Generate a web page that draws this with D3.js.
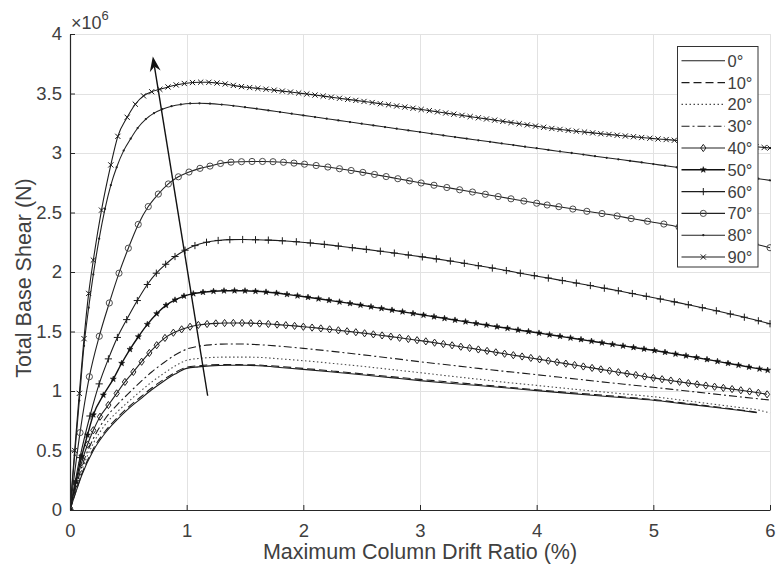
<!DOCTYPE html>
<html>
<head>
<meta charset="utf-8">
<script src="https://cdn.jsdelivr.net/npm/d3@7"></script>
<style>
  html, body { margin: 0; padding: 0; background: #fff; }
  svg { display: block; font-family: "Liberation Sans", Arial, Helvetica, sans-serif; }
</style>
</head>
<body>
<svg id="chart" width="777" height="567"></svg>
<script>
// ---- axis ticks ----
const xTickValues = [0, 1, 2, 3, 4, 5, 6];
const xTickLabels = ["0", "1", "2", "3", "4", "5", "6"];
const yTickValues = [0, 0.5, 1, 1.5, 2, 2.5, 3, 3.5, 4];
const yTickLabels = ["0", "0.5", "1", "1.5", "2", "2.5", "3", "3.5", "4"];

// ---- incidence angles (legend) ----
const angleLabels = ["0°", "10°", "20°", "30°", "40°", "50°", "60°", "70°", "80°", "90°"];

// ---- pushover curves: [drift ratio (%), base shear (x10^6 N)] ----
const deg0 = [[0,0],[0.05,0.15],[0.1,0.29],[0.2,0.5],[0.3,0.645],[0.4,0.755],[0.5,0.85],[0.6,0.93],[0.7,1.01],[0.8,1.08],[0.9,1.142],[1.0,1.19],[1.1,1.203],[1.2,1.211],[1.35,1.216],[1.5,1.216],[1.65,1.21],[1.8,1.198],[2.0,1.182],[2.25,1.16],[2.5,1.137],[2.75,1.112],[3.0,1.087],[3.25,1.065],[3.5,1.046],[3.75,1.025],[4.0,1.003],[4.25,0.982],[4.5,0.962],[4.75,0.943],[5.0,0.922],[5.25,0.894],[5.5,0.866],[5.75,0.836],[5.886,0.818]];
const deg10 = [[0,0],[0.05,0.155],[0.1,0.3],[0.2,0.515],[0.3,0.66],[0.4,0.77],[0.5,0.865],[0.6,0.945],[0.7,1.025],[0.8,1.095],[0.9,1.155],[1.0,1.199],[1.1,1.212],[1.2,1.219],[1.35,1.222],[1.5,1.221],[1.65,1.217],[1.8,1.206],[2.0,1.19],[2.25,1.168],[2.5,1.145],[2.75,1.121],[3.0,1.098],[3.25,1.076],[3.5,1.055],[3.75,1.032],[4.0,1.01],[4.25,0.99],[4.5,0.97],[4.75,0.95],[5.0,0.928],[5.25,0.9],[5.5,0.871],[5.75,0.84],[5.886,0.822]];
const deg20 = [[0,0],[0.05,0.17],[0.1,0.33],[0.2,0.56],[0.3,0.715],[0.4,0.82],[0.5,0.91],[0.6,0.995],[0.7,1.075],[0.8,1.145],[0.9,1.21],[1.0,1.258],[1.1,1.273],[1.2,1.281],[1.35,1.285],[1.5,1.285],[1.65,1.281],[1.8,1.27],[2.0,1.255],[2.25,1.232],[2.5,1.208],[2.75,1.181],[3.0,1.154],[3.25,1.126],[3.5,1.099],[3.75,1.071],[4.0,1.047],[4.25,1.022],[4.5,0.998],[4.75,0.975],[5.0,0.952],[5.25,0.922],[5.5,0.891],[5.75,0.86],[5.9,0.84],[6.0,0.815]];
const deg30 = [[0,0],[0.05,0.19],[0.1,0.36],[0.2,0.6],[0.3,0.765],[0.4,0.88],[0.5,0.978],[0.6,1.072],[0.7,1.16],[0.8,1.235],[0.9,1.302],[1.0,1.352],[1.1,1.376],[1.2,1.388],[1.3,1.394],[1.45,1.395],[1.6,1.39],[1.8,1.376],[2.0,1.358],[2.25,1.333],[2.5,1.305],[2.75,1.276],[3.0,1.246],[3.25,1.218],[3.5,1.19],[3.75,1.163],[4.0,1.137],[4.25,1.11],[4.5,1.083],[4.75,1.057],[5.0,1.031],[5.25,1.004],[5.5,0.977],[5.75,0.95],[6.0,0.924]];
const deg40 = [[0,0],[0.05,0.22],[0.1,0.4],[0.15,0.55],[0.2,0.67],[0.257,0.784],[0.329,0.882],[0.4,0.98],[0.471,1.076],[0.543,1.16],[0.614,1.246],[0.68,1.32],[0.743,1.385],[0.814,1.446],[0.886,1.49],[0.957,1.518],[1.029,1.54],[1.1,1.555],[1.175,1.563],[1.25,1.568],[1.325,1.571],[1.4,1.572],[1.475,1.572],[1.55,1.57],[1.625,1.567],[1.7,1.563],[1.775,1.558],[1.85,1.553],[1.925,1.547],[2.0,1.54],[2.075,1.533],[2.15,1.526],[2.225,1.518],[2.3,1.51],[2.375,1.502],[2.45,1.494],[2.525,1.485],[2.6,1.476],[2.675,1.467],[2.75,1.457],[2.825,1.447],[2.9,1.437],[2.975,1.427],[3.05,1.417],[3.125,1.406],[3.2,1.395],[3.275,1.384],[3.35,1.372],[3.425,1.361],[3.5,1.349],[3.575,1.337],[3.65,1.325],[3.725,1.313],[3.8,1.301],[3.875,1.29],[3.95,1.278],[4.025,1.266],[4.1,1.254],[4.175,1.242],[4.25,1.23],[4.325,1.218],[4.4,1.206],[4.475,1.194],[4.55,1.182],[4.625,1.17],[4.7,1.158],[4.775,1.146],[4.85,1.134],[4.925,1.122],[5.0,1.11],[5.075,1.099],[5.15,1.088],[5.225,1.077],[5.3,1.066],[5.375,1.056],[5.45,1.046],[5.525,1.036],[5.6,1.026],[5.675,1.016],[5.75,1.006],[5.825,0.996],[5.9,0.985],[5.975,0.972]];
const deg50 = [[0,0],[0.05,0.24],[0.1,0.45],[0.15,0.63],[0.2,0.8],[0.286,0.966],[0.371,1.1],[0.443,1.233],[0.514,1.35],[0.586,1.456],[0.663,1.56],[0.743,1.65],[0.823,1.72],[0.9,1.765],[0.977,1.798],[1.057,1.818],[1.14,1.83],[1.23,1.838],[1.32,1.842],[1.41,1.843],[1.5,1.842],[1.59,1.838],[1.68,1.832],[1.77,1.823],[1.86,1.812],[1.95,1.8],[2.04,1.788],[2.13,1.775],[2.22,1.762],[2.31,1.749],[2.4,1.736],[2.49,1.722],[2.58,1.708],[2.67,1.694],[2.76,1.68],[2.85,1.666],[2.94,1.652],[3.03,1.638],[3.12,1.624],[3.21,1.61],[3.3,1.596],[3.39,1.582],[3.48,1.568],[3.57,1.554],[3.66,1.54],[3.75,1.527],[3.84,1.513],[3.93,1.5],[4.02,1.487],[4.11,1.473],[4.2,1.46],[4.29,1.446],[4.38,1.433],[4.47,1.419],[4.56,1.405],[4.65,1.392],[4.74,1.379],[4.83,1.366],[4.92,1.353],[5.01,1.34],[5.1,1.326],[5.19,1.311],[5.28,1.296],[5.37,1.281],[5.46,1.265],[5.55,1.249],[5.64,1.233],[5.73,1.217],[5.82,1.201],[5.91,1.186],[5.98,1.175]];
const deg60 = [[0,0],[0.085,0.44],[0.171,0.79],[0.25,1.06],[0.329,1.27],[0.406,1.45],[0.486,1.6],[0.577,1.76],[0.663,1.895],[0.74,1.99],[0.82,2.065],[0.9,2.13],[0.986,2.183],[1.071,2.222],[1.17,2.25],[1.27,2.265],[1.37,2.272],[1.48,2.273],[1.59,2.271],[1.7,2.268],[1.82,2.262],[1.94,2.254],[2.06,2.244],[2.18,2.232],[2.3,2.218],[2.42,2.204],[2.54,2.19],[2.66,2.175],[2.78,2.159],[2.9,2.143],[3.02,2.127],[3.14,2.11],[3.26,2.092],[3.38,2.073],[3.5,2.053],[3.62,2.033],[3.74,2.012],[3.86,1.99],[3.98,1.969],[4.1,1.949],[4.22,1.928],[4.34,1.907],[4.46,1.886],[4.58,1.864],[4.7,1.842],[4.82,1.819],[4.94,1.796],[5.06,1.773],[5.18,1.749],[5.3,1.725],[5.42,1.7],[5.54,1.674],[5.66,1.647],[5.78,1.62],[5.9,1.59],[6.0,1.565]];
const deg70 = [[0,0],[0.086,0.65],[0.166,1.12],[0.251,1.46],[0.337,1.74],[0.42,1.99],[0.5,2.2],[0.585,2.4],[0.671,2.55],[0.757,2.655],[0.843,2.74],[0.929,2.8],[1.02,2.84],[1.114,2.871],[1.2,2.89],[1.29,2.912],[1.38,2.923],[1.47,2.927],[1.56,2.929],[1.65,2.929],[1.74,2.927],[1.83,2.922],[1.92,2.915],[2.01,2.906],[2.11,2.895],[2.21,2.882],[2.31,2.868],[2.41,2.853],[2.51,2.837],[2.61,2.82],[2.71,2.802],[2.81,2.784],[2.91,2.766],[3.01,2.748],[3.12,2.729],[3.23,2.71],[3.34,2.691],[3.45,2.672],[3.56,2.653],[3.67,2.634],[3.78,2.615],[3.89,2.596],[4.0,2.578],[4.09,2.563],[4.19,2.549],[4.31,2.529],[4.43,2.51],[4.56,2.491],[4.69,2.471],[4.81,2.449],[4.95,2.426],[5.09,2.403],[5.22,2.378],[5.35,2.352],[5.48,2.325],[5.61,2.296],[5.74,2.266],[5.87,2.235],[6.0,2.204]];
const deg80 = [[0,0],[0.04,0.46],[0.08,0.92],[0.12,1.38],[0.16,1.7],[0.2,1.98],[0.25,2.28],[0.3,2.53],[0.35,2.73],[0.4,2.88],[0.46,3.02],[0.52,3.12],[0.58,3.21],[0.65,3.285],[0.72,3.335],[0.79,3.368],[0.87,3.393],[0.95,3.408],[1.03,3.416],[1.11,3.418],[1.2,3.415],[1.3,3.407],[1.4,3.397],[1.5,3.385],[1.6,3.372],[1.7,3.358],[1.8,3.344],[1.9,3.33],[2.0,3.316],[2.1,3.302],[2.2,3.288],[2.3,3.274],[2.4,3.26],[2.5,3.246],[2.6,3.232],[2.7,3.218],[2.8,3.204],[2.9,3.19],[3.0,3.176],[3.1,3.162],[3.2,3.148],[3.3,3.134],[3.4,3.121],[3.5,3.107],[3.6,3.094],[3.7,3.08],[3.8,3.067],[3.9,3.053],[4.0,3.04],[4.1,3.026],[4.2,3.013],[4.3,3.0],[4.4,2.987],[4.5,2.973],[4.6,2.96],[4.7,2.947],[4.8,2.934],[4.9,2.921],[5.0,2.907],[5.1,2.894],[5.2,2.88],[5.3,2.867],[5.4,2.853],[5.5,2.84],[5.6,2.826],[5.7,2.812],[5.8,2.798],[5.9,2.784],[6.0,2.77]];
const deg90 = [[0,0],[0.04,0.5],[0.08,0.98],[0.12,1.44],[0.16,1.82],[0.2,2.1],[0.27,2.52],[0.35,2.9],[0.41,3.14],[0.49,3.3],[0.56,3.41],[0.63,3.48],[0.7,3.515],[0.77,3.535],[0.84,3.555],[0.91,3.572],[0.98,3.584],[1.05,3.592],[1.12,3.595],[1.19,3.594],[1.26,3.588],[1.33,3.58],[1.4,3.568],[1.47,3.558],[1.54,3.55],[1.61,3.543],[1.68,3.536],[1.75,3.528],[1.82,3.52],[1.89,3.512],[1.96,3.504],[2.03,3.496],[2.1,3.487],[2.17,3.478],[2.24,3.469],[2.31,3.46],[2.38,3.451],[2.45,3.442],[2.52,3.433],[2.59,3.424],[2.66,3.414],[2.73,3.405],[2.8,3.395],[2.87,3.386],[2.94,3.376],[3.01,3.366],[3.08,3.356],[3.15,3.346],[3.22,3.336],[3.29,3.326],[3.36,3.316],[3.43,3.306],[3.5,3.296],[3.57,3.286],[3.64,3.276],[3.71,3.266],[3.78,3.256],[3.85,3.246],[3.92,3.236],[3.99,3.226],[4.06,3.216],[4.13,3.206],[4.2,3.198],[4.27,3.19],[4.34,3.183],[4.41,3.176],[4.48,3.169],[4.55,3.162],[4.62,3.156],[4.69,3.149],[4.76,3.143],[4.83,3.137],[4.9,3.13],[4.97,3.124],[5.04,3.118],[5.11,3.113],[5.18,3.107],[5.25,3.102],[5.32,3.096],[5.39,3.091],[5.46,3.085],[5.53,3.08],[5.6,3.074],[5.67,3.068],[5.74,3.063],[5.81,3.057],[5.88,3.052],[5.95,3.046],[6.0,3.042]];

// trend arrow (drift %, shear x10^6 N)
const arrowTail = [1.18, 0.96];
const arrowTip = [0.71, 3.81];

const curves = [deg0, deg10, deg20, deg30, deg40, deg50, deg60, deg70, deg80, deg90];

// ---- styling per curve ----
const dashStyle = [null, "8,4", "1.5,2.5", "8,3,2,3", null, null, null, null, null, null];
const lineColor = ["#1c1c1c", "#1c1c1c", "#4a4a4a", "#1c1c1c", "#222", "#111", "#1c1c1c", "#222", "#222", "#1c1c1c"];
const lineWidth = [1.1, 1.1, 1.1, 1.1, 1.1, 1.4, 1.1, 1.1, 1.1, 1.1];
const markerKind = [null, null, null, null, "diamond", "star", "plus", "circle", "dot", "cross"];

const svg = d3.select("#chart");
const x = d3.scaleLinear().domain([0, 6]).range([70, 770]);
const y = d3.scaleLinear().domain([0, 4]).range([510, 34]);

// grid
const grid = svg.append("g").attr("stroke", "#e2e2e2").attr("stroke-width", 1).attr("shape-rendering", "crispEdges");
grid.selectAll("line.gx").data(xTickValues.filter(v => v > 0)).join("line").attr("class", "gx")
  .attr("x1", d => Math.round(x(d)) + 0.5).attr("x2", d => Math.round(x(d)) + 0.5)
  .attr("y1", y(0)).attr("y2", y(4));
grid.selectAll("line.gy").data(yTickValues.filter(v => v > 0)).join("line").attr("class", "gy")
  .attr("y1", d => Math.round(y(d)) + 0.5).attr("y2", d => Math.round(y(d)) + 0.5)
  .attr("x1", x(0)).attr("x2", x(6));

// clip to axes
svg.append("clipPath").attr("id", "plotClip").append("rect")
  .attr("x", x(0)).attr("y", y(4) - 1).attr("width", x(6) - x(0) + 1).attr("height", y(0) - y(4) + 2);

const line = d3.line().x(d => x(d[0])).y(d => y(d[1])).curve(d3.curveMonotoneX);

function markerPath(kind) {
  switch (kind) {
    case "diamond": return "M0,-3.6L2.6,0L0,3.6L-2.6,0Z";
    case "plus": return "M-3.6,0H3.6M0,-3.6V3.6";
    case "cross": return "M-2.6,-2.6L2.6,2.6M-2.6,2.6L2.6,-2.6";
    case "star": return d3.symbol(d3.symbolStar, 11)();
    case "circle": return d3.symbol(d3.symbolCircle, 30)();
    case "dot": return d3.symbol(d3.symbolCircle, 4)();
  }
  return null;
}
function styleMarker(sel, kind, color) {
  if (kind === "star" || kind === "dot") {
    sel.attr("fill", color).attr("stroke", kind === "star" ? color : "none").attr("stroke-width", 0.6);
  } else {
    sel.attr("fill", "none").attr("stroke", kind === "circle" ? "#4d4d4d" : color).attr("stroke-width", 1);
  }
}

const plot = svg.append("g").attr("clip-path", "url(#plotClip)");
curves.forEach((pts, i) => {
  const g = plot.append("g");
  g.append("path").datum(pts)
    .attr("d", line)
    .attr("fill", "none")
    .attr("stroke", lineColor[i])
    .attr("stroke-width", lineWidth[i])
    .attr("stroke-dasharray", dashStyle[i]);
  const kind = markerKind[i];
  if (kind) {
    const mp = markerPath(kind);
    g.selectAll("path.mk").data(pts).join("path").attr("class", "mk")
      .attr("d", mp)
      .attr("transform", d => `translate(${x(d[0])},${y(d[1])})`)
      .call(styleMarker, kind, lineColor[i]);
  }
});

// axes
const axisColor = "#262626";
const textColor = "#404040";
const xAxis = d3.axisBottom(x).tickValues(xTickValues).tickFormat((d, i) => xTickLabels[i])
  .tickSizeInner(-5).tickSizeOuter(0).tickPadding(14);
const yAxis = d3.axisLeft(y).tickValues(yTickValues).tickFormat((d, i) => yTickLabels[i])
  .tickSizeInner(-5).tickSizeOuter(0).tickPadding(8);

const gx = svg.append("g").attr("transform", `translate(0,${y(0)})`).call(xAxis);
const gy = svg.append("g").attr("transform", `translate(${x(0)},0)`).call(yAxis);
[gx, gy].forEach(g => {
  g.attr("font-family", null).attr("font-size", null);
  g.select(".domain").attr("stroke", axisColor).attr("stroke-width", 1.2);
  g.selectAll(".tick line").attr("stroke", axisColor);
  g.selectAll(".tick text").attr("fill", textColor).attr("font-size", 18.5);
});

// exponent label
const expo = svg.append("text").attr("x", 71).attr("y", 29).attr("fill", textColor).attr("font-size", 18);
expo.append("tspan").text("×10");
expo.append("tspan").attr("font-size", 13).attr("dy", -9).text("6");

// axis titles
svg.append("text").attr("x", (x(0) + x(6)) / 2).attr("y", 559)
  .attr("text-anchor", "middle").attr("fill", textColor).attr("font-size", 21.5)
  .text("Maximum Column Drift Ratio (%)");
svg.append("text").attr("transform", `translate(31,${(y(0) + y(4)) / 2 + 6}) rotate(-90)`)
  .attr("text-anchor", "middle").attr("fill", textColor).attr("font-size", 21.5)
  .text("Total Base Shear (N)");

// trend arrow
{
  const p0 = [x(arrowTail[0]), y(arrowTail[1])];
  const p1 = [x(arrowTip[0]), y(arrowTip[1])];
  const dx = p1[0] - p0[0], dy = p1[1] - p0[1];
  const len = Math.hypot(dx, dy), ux = dx / len, uy = dy / len;
  const px = -uy, py = ux;
  const headLen = 15, headHalf = 5.5, notch = 10;
  svg.append("line")
    .attr("x1", p0[0]).attr("y1", p0[1])
    .attr("x2", p1[0] - ux * notch).attr("y2", p1[1] - uy * notch)
    .attr("stroke", "#111").attr("stroke-width", 1.4);
  const head = [
    [p1[0], p1[1]],
    [p1[0] - ux * headLen + px * headHalf, p1[1] - uy * headLen + py * headHalf],
    [p1[0] - ux * notch, p1[1] - uy * notch],
    [p1[0] - ux * headLen - px * headHalf, p1[1] - uy * headLen - py * headHalf]
  ];
  svg.append("path").attr("d", "M" + head.map(p => p.join(",")).join("L") + "Z").attr("fill", "#111");
}

// legend
const legend = svg.append("g");
legend.append("rect").attr("x", 677.5).attr("y", 46.5).attr("width", 80.5).attr("height", 220.5)
  .attr("fill", "#fff").attr("stroke", "#333").attr("stroke-width", 1);
const rowY = i => 60.8 + i * 21.8;
angleLabels.forEach((lab, i) => {
  const yy = rowY(i);
  legend.append("line").attr("x1", 681.5).attr("x2", 725).attr("y1", yy).attr("y2", yy)
    .attr("stroke", lineColor[i]).attr("stroke-width", lineWidth[i])
    .attr("stroke-dasharray", dashStyle[i]);
  const kind = markerKind[i];
  if (kind) {
    legend.append("path").attr("d", markerPath(kind)).attr("transform", `translate(703.3,${yy})`)
      .call(styleMarker, kind, lineColor[i]);
  }
  legend.append("text").attr("x", 727.5).attr("y", yy).attr("dy", "0.36em")
    .attr("fill", textColor).attr("font-size", 16.5).text(lab);
});
</script>
</body>
</html>
